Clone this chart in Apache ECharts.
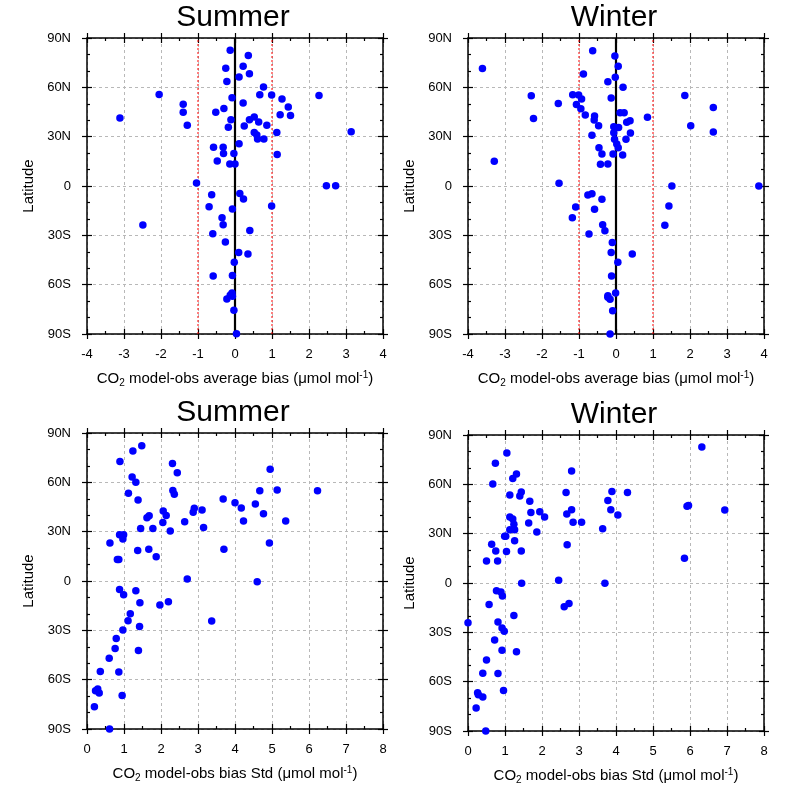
<!DOCTYPE html>
<html>
<head>
<meta charset="utf-8">
<script src="https://cdn.jsdelivr.net/npm/echarts@6/dist/echarts.min.js"></script>
<style>
  html, body { margin: 0; padding: 0; background: #fff; }
  #main { width: 787px; height: 791px; }
</style>
</head>
<body>
<div id="main"></div>
<script>
// latitude ticks and their labels
var latTicks = [-90, -60, -30, 0, 30, 60, 90];
var latLabels = ['90S', '60S', '30S', '0', '30N', '60N', '90N'];
var panelTitles = ['Summer', 'Winter', 'Summer', 'Winter'];
var biasRefLines = [-1, 0, 1];

// [bias, latitude]
var summerBias = [
  [-0.13,82.5],[0.36,79.3],[0.22,72.8],[-0.25,71.6],[0.39,68.3],[0.11,66.3],[-0.22,63.6],[0.77,60.2],
  [-2.05,55.7],[0.67,55.5],[0.99,55.3],[2.27,55.1],[-0.08,53.7],[1.27,52.9],[-1.40,49.7],[0.22,50.5],
  [1.44,48.0],[-0.30,47.2],[-1.40,44.8],[-0.52,44.8],[1.22,43.4],[1.50,42.8],[-3.11,41.4],[0.52,42.0],
  [-0.11,40.3],[0.39,40.3],[0.64,38.9],[-1.29,36.9],[0.25,36.5],[0.86,36.9],[-0.18,35.7],[3.14,33.0],
  [0.52,32.6],[1.13,32.6],[0.59,31.0],[0.61,28.6],[0.78,28.6],[0.11,25.7],[-0.58,23.5],[-0.32,23.5],
  [-0.31,19.7],[-0.03,19.7],[1.14,19.1],[-0.48,15.2],[-0.14,13.4],[0.0,13.4],[-1.04,1.8],[2.47,0.2],
  [2.72,0.2],[-0.63,-5.3],[0.13,-4.5],[0.23,-7.9],[0.99,-12.2],[-0.70,-12.6],[-0.07,-14.0],[-0.35,-19.3],
  [-0.32,-23.5],[-2.49,-23.7],[0.40,-27.0],[-0.60,-29.0],[-0.26,-34.1],[0.10,-40.5],[0.35,-41.3],[-0.02,-46.4],
  [-0.59,-54.7],[-0.07,-54.5],[-0.08,-65.1],[-0.13,-66.5],[-0.07,-67.1],[-0.22,-68.7],[-0.03,-75.6],[0.04,-89.8]
];
var winterBias = [
  [-0.63,82.3],[-0.03,79.1],[-3.61,71.4],[0.06,72.8],[-0.88,68.1],[-0.02,66.1],[-0.22,63.4],[0.19,60.0],
  [-2.29,54.9],[1.86,55.1],[-1.17,55.5],[-1.01,55.3],[-0.93,52.9],[-0.13,53.5],[-1.56,50.1],[-1.07,49.5],
  [2.63,47.8],[-0.95,47.0],[0.11,44.6],[0.22,44.6],[-0.83,43.2],[-0.58,42.6],[0.85,41.8],[-2.23,41.1],
  [-0.59,40.1],[0.38,39.7],[0.29,38.7],[-0.47,36.7],[2.02,36.7],[-0.06,36.1],[0.07,35.5],[0.39,32.2],
  [2.63,32.8],[-0.06,32.4],[-0.65,30.8],[-0.04,28.4],[0.27,28.4],[0.02,25.5],[0.06,23.3],[-0.46,23.3],
  [-0.38,19.5],[-0.08,19.5],[0.18,18.9],[-3.29,15.0],[-0.42,13.2],[-0.22,13.4],[-1.54,1.6],[1.51,0.0],
  [3.86,0.0],[-0.76,-5.5],[-0.65,-4.7],[-0.38,-8.1],[1.43,-12.2],[-1.09,-12.8],[-0.58,-14.2],[-1.18,-19.3],
  [-0.36,-23.5],[1.32,-23.9],[-0.30,-27.2],[-0.73,-29.2],[-0.10,-34.3],[-0.13,-40.5],[0.44,-41.4],[0.05,-46.4],
  [-0.12,-54.7],[-0.01,-65.1],[-0.22,-66.7],[-0.22,-67.7],[-0.16,-68.9],[-0.09,-75.8],[-0.16,-90.0]
];
// [bias std, latitude]
var summerStd = [
  [1.48,82.3],[1.24,79.1],[0.89,72.6],[2.31,71.4],[2.44,65.9],[4.95,67.9],[1.22,63.2],[1.32,60.0],
  [4.67,54.9],[5.14,55.3],[6.23,54.9],[2.32,55.1],[2.36,52.7],[1.12,53.3],[1.38,49.3],[3.68,49.9],
  [4.00,47.6],[4.17,44.4],[4.55,46.8],[2.90,44.2],[3.11,43.2],[2.87,41.8],[2.06,42.6],[2.14,39.9],
  [1.68,39.7],[1.62,38.5],[4.77,40.9],[2.05,35.5],[2.64,36.1],[4.23,36.5],[5.37,36.5],[1.45,32.0],
  [1.78,32.0],[3.15,32.6],[2.25,30.4],[0.88,28.2],[0.99,28.2],[0.97,25.5],[0.62,23.1],[4.93,23.1],
  [1.37,18.6],[1.67,19.3],[3.70,19.3],[1.87,14.8],[0.82,13.0],[0.86,13.0],[2.71,1.2],[4.60,-0.4],
  [0.88,-5.1],[1.32,-5.9],[0.99,-8.3],[1.43,-13.2],[1.97,-14.6],[2.20,-12.6],[1.17,-19.9],[1.11,-24.1],
  [3.37,-24.3],[1.42,-27.6],[0.97,-29.8],[0.79,-34.9],[0.76,-41.1],[1.39,-42.2],[0.60,-47.0],[0.36,-55.1],
  [0.86,-55.3],[0.29,-65.7],[0.23,-66.7],[0.33,-68.1],[0.95,-69.7],[0.20,-76.4],[0.61,-90.0]
];
var winterStd = [
  [6.32,82.7],[1.05,79.1],[0.74,72.8],[2.80,68.1],[1.31,66.3],[1.21,63.6],[0.67,60.2],[2.65,55.1],
  [3.89,55.7],[4.31,55.1],[1.44,55.3],[1.40,52.9],[1.13,53.5],[1.67,49.7],[3.78,50.1],[5.96,47.2],
  [5.92,46.6],[2.80,44.6],[3.86,44.6],[1.70,42.8],[1.94,43.4],[6.94,44.4],[2.67,42.0],[4.05,41.4],
  [2.07,40.1],[1.13,40.1],[1.21,38.9],[1.64,36.5],[2.84,36.9],[3.07,36.9],[1.24,35.7],[1.13,32.4],
  [1.26,32.4],[3.64,33.0],[1.86,31.0],[0.99,28.4],[1.02,28.4],[1.26,25.7],[0.64,23.5],[2.68,23.3],
  [0.75,19.5],[1.04,19.1],[1.44,19.5],[0.50,13.4],[0.80,13.4],[5.85,15.0],[2.45,1.6],[1.45,-0.2],
  [3.70,-0.2],[0.77,-4.7],[0.89,-5.5],[0.93,-7.9],[0.57,-13.0],[2.60,-14.4],[2.73,-12.4],[1.24,-19.7],
  [0.00,-24.1],[0.81,-23.7],[0.92,-27.4],[0.98,-29.4],[0.72,-34.7],[0.92,-40.9],[1.31,-41.8],[0.50,-46.8],
  [0.40,-54.9],[0.81,-55.1],[0.96,-65.3],[0.26,-66.7],[0.28,-67.9],[0.40,-69.3],[0.22,-76.0],[0.48,-90.0]
];

var FONT = '"Liberation Sans", Arial, Helvetica, sans-serif';
var axisLineStyle = { color: '#000', width: 1.5 };
var tickStyle = { color: '#000', width: 1.2 };

var grids = [
  { left: 87, top: 38, width: 296, height: 296 },
  { left: 468, top: 38, width: 296, height: 296 },
  { left: 87, top: 433, width: 296, height: 296 },
  { left: 468, top: 435, width: 296, height: 296 }
];
var xRanges = [[-4, 4], [-4, 4], [0, 8], [0, 8]];
var xNames = [
  '{n|CO}{sub|2}{n| model-obs average bias (μmol mol}{sup|-1}{n|)}',
  '{n|CO}{sub|2}{n| model-obs average bias (μmol mol}{sup|-1}{n|)}',
  '{n|CO}{sub|2}{n| model-obs bias Std (μmol mol}{sup|-1}{n|)}',
  '{n|CO}{sub|2}{n| model-obs bias Std (μmol mol}{sup|-1}{n|)}'
];
var nameRich = {
  n: { fontSize: 15, fontFamily: FONT, color: '#000', lineHeight: 18 },
  sub: { fontSize: 10, fontFamily: FONT, color: '#000', lineHeight: 10, verticalAlign: 'bottom' },
  sup: { fontSize: 10, fontFamily: FONT, color: '#000', lineHeight: 10, verticalAlign: 'top' }
};

function latFmt(v) {
  var i = latTicks.indexOf(v);
  return i >= 0 ? latLabels[i] : '';
}

var xAxes = [], yAxes = [];

// one side = an axis with inward ticks + an overlapping one with outward ticks
function makeAxes(gi, isX, min, max, interval, minorSplit, pos, primary) {
  var list = isX ? xAxes : yAxes;
  var inner = {
    gridIndex: gi, type: 'value', position: pos, min: min, max: max, interval: interval,
    axisLine: { show: true, onZero: false, lineStyle: axisLineStyle },
    axisTick: { show: true, inside: true, length: 5, lineStyle: tickStyle },
    minorTick: { show: true, splitNumber: minorSplit, length: 3, lineStyle: tickStyle },
    axisLabel: { show: false },
    splitLine: { show: false }
  };
  if (primary) {
    inner.axisLabel = {
      show: true, color: '#000', fontSize: 13, fontFamily: FONT,
      margin: isX ? 14 : 16,
      formatter: isX ? function (v) { return String(v); } : latFmt
    };
    inner.splitLine = { show: true, lineStyle: { color: '#b8b8b8', type: [3, 3], width: 1 } };
    if (isX) {
      inner.name = xNames[gi];
      inner.nameLocation = 'middle';
      inner.nameGap = 36;
      inner.nameTextStyle = { rich: nameRich };
    } else {
      inner.name = 'Latitude';
      inner.nameLocation = 'middle';
      inner.nameGap = 51;
      inner.nameTextStyle = { fontSize: 15, fontFamily: FONT, color: '#000' };
    }
  }
  var outer = {
    gridIndex: gi, type: 'value', position: pos, min: min, max: max, interval: interval,
    axisLine: { show: false, onZero: false },
    axisTick: { show: true, inside: false, length: 5, lineStyle: tickStyle },
    axisLabel: { show: false },
    splitLine: { show: false }
  };
  var idx = list.length;
  list.push(inner);
  list.push(outer);
  return idx;
}

var seriesData = [summerBias, winterBias, summerStd, winterStd];
var series = [];
var titles = [];
var latMin = latTicks[0], latMax = latTicks[latTicks.length - 1];

grids.forEach(function (g, gi) {
  var xr = xRanges[gi];
  var xi = makeAxes(gi, true, xr[0], xr[1], 1, 2, 'bottom', true);
  makeAxes(gi, true, xr[0], xr[1], 1, 2, 'top', false);
  var yi = makeAxes(gi, false, -90, 90, 30, 3, 'left', true);
  makeAxes(gi, false, -90, 90, 30, 3, 'right', false);

  // reference lines at -1, 0, 1 for the bias panels
  if (gi < 2) {
    biasRefLines.forEach(function (v) {
      series.push({
        type: 'line',
        xAxisIndex: xi,
        yAxisIndex: yi,
        data: [[v, latMin], [v, latMax]],
        symbol: 'none',
        silent: true,
        animation: false,
        z: v === 0 ? 4 : 3,
        lineStyle: v === 0
          ? { color: '#000000', width: 2.2, type: 'solid' }
          : { color: '#ff0000', width: 1, type: [2, 2] }
      });
    });
  }

  series.push({
    type: 'scatter',
    xAxisIndex: xi,
    yAxisIndex: yi,
    data: seriesData[gi],
    symbolSize: 7.5,
    clip: false,
    itemStyle: { color: '#0000ff', opacity: 1 },
    z: 5
  });

  titles.push({
    text: panelTitles[gi],
    left: g.left + g.width / 2 - 2,
    top: g.top - 35,
    textAlign: 'center',
    padding: 0,
    textStyle: { fontSize: 30, fontWeight: 'normal', fontFamily: FONT, color: '#000' }
  });
});

var chart = echarts.init(document.getElementById('main'), null, { renderer: 'canvas' });
chart.setOption({
  animation: false,
  backgroundColor: '#fff',
  title: titles,
  grid: grids,
  xAxis: xAxes,
  yAxis: yAxes,
  series: series
});
</script>
</body>
</html>
